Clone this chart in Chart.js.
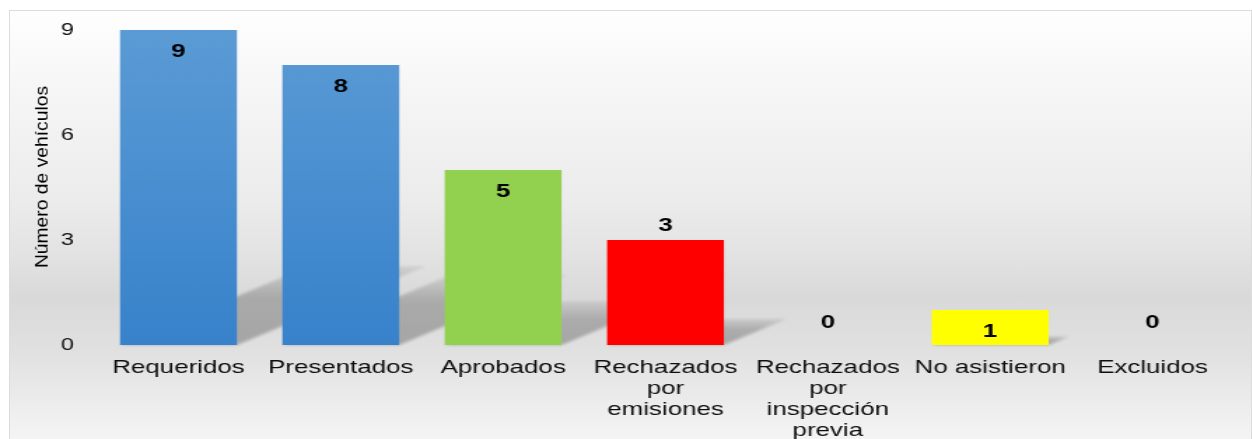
<!DOCTYPE html>
<html>
<head>
<meta charset="utf-8">
<script src="https://cdn.jsdelivr.net/npm/chart.js@4/dist/chart.umd.min.js"></script>
<style>
  html, body { margin: 0; padding: 0; background: #fff; width: 1252px; height: 439px; overflow: hidden; }
  #frame {
    position: absolute; left: 9px; top: 10px; width: 1241px; height: 440px;
    border: 1px solid #dcdcdc; border-bottom: none;
    background: linear-gradient(to bottom, #fefefe 0%, #f5f5f5 20%, #ebebeb 44%, #e2e2e2 56%, #d9d9d9 65%, #e1e1e1 78%, #eeeeee 91%, #f7f7f7 100%);
  }
  /* el gráfico original está estirado en horizontal: se dibuja estrecho y se escala */
  #wrap { position: absolute; left: 0; top: 0; width: 894px; height: 439px; transform: scaleX(1.4); transform-origin: 0 0; }
</style>
</head>
<body>
<div id="frame"></div>
<div id="wrap"><canvas id="c" width="894" height="439"></canvas></div>
<script>
// datos
const categorias = [
  'Requeridos', 'Presentados', 'Aprobados',
  ['Rechazados', 'por', 'emisiones'],
  ['Rechazados', 'por', 'inspección', 'previa'],
  'No asistieron', 'Excluidos',
];
const vehiculos = [9, 8, 5, 3, 0, 1, 0];
const ticksY = [0, 3, 6, 9];
const tituloY = 'Número de vehículos';

// estilo
const FONT = "'Liberation Sans', Arial, sans-serif";
const colores = ['azul', 'azul', '#92d050', '#ff0000', '#ffff00', '#ffff00', '#ff0000'];
const etiquetaDentro = [true, true, true, false, false, true, false];

function relleno(c) {
  const col = colores[c.dataIndex];
  if (col !== 'azul') return col;
  const { ctx, chartArea } = c.chart;
  if (!chartArea) return '#4a8fd1';
  const g = ctx.createLinearGradient(0, chartArea.top, 0, chartArea.bottom);
  g.addColorStop(0, '#5b9bd5');
  g.addColorStop(1, '#3782cb');
  return g;
}

// sombra en perspectiva detrás de cada barra
const sombras = {
  id: 'sombras',
  beforeDatasetsDraw(chart) {
    const ctx = chart.ctx;
    const meta = chart.getDatasetMeta(0);
    meta.data.forEach((el) => {
      const p = el.getProps(['x', 'y', 'base', 'width'], true);
      const h = p.base - p.y;
      if (h <= 0) return;
      const l = p.x - p.width / 2, r = p.x + p.width / 2;
      const dx = 0.6 * h / 1.4, dy = 0.25 * h;
      const g = ctx.createLinearGradient(0, p.base, 0, p.base - dy);
      g.addColorStop(0, 'rgba(0,0,0,0.26)');
      g.addColorStop(0.6, 'rgba(0,0,0,0.22)');
      g.addColorStop(1, 'rgba(0,0,0,0.07)');
      ctx.save();
      ctx.filter = 'blur(1.5px)';
      ctx.fillStyle = g;
      ctx.beginPath();
      ctx.moveTo(l, p.base);
      ctx.lineTo(l + dx, p.base - dy);
      ctx.lineTo(r + dx, p.base - dy);
      ctx.lineTo(r, p.base);
      ctx.closePath();
      ctx.fill();
      ctx.restore();
    });
  },
};

// valores sobre las barras
const valores = {
  id: 'valores',
  afterDatasetsDraw(chart) {
    const ctx = chart.ctx;
    const meta = chart.getDatasetMeta(0);
    ctx.save();
    ctx.font = 'bold 18.5px ' + FONT;
    ctx.fillStyle = '#000';
    ctx.textAlign = 'center';
    ctx.textBaseline = 'middle';
    meta.data.forEach((el, i) => {
      const v = vehiculos[i];
      let y;
      if (v === 0) y = el.base - 22;
      else if (etiquetaDentro[i]) y = el.y + 22;
      else y = el.y - 14;
      ctx.fillText(String(v), el.x, y);
    });
    ctx.restore();
  },
};

// título del eje Y (rotado)
const tituloEje = {
  id: 'tituloEje',
  afterDraw(chart) {
    const ctx = chart.ctx;
    ctx.save();
    ctx.translate(33.8, 177);
    ctx.rotate(-Math.PI / 2);
    ctx.scale(1.45, 1);
    ctx.font = '13.3px ' + FONT;
    ctx.fillStyle = '#000';
    ctx.textAlign = 'center';
    ctx.textBaseline = 'alphabetic';
    ctx.fillText(tituloY, 0, 0);
    ctx.restore();
  },
};

new Chart(document.getElementById('c'), {
  type: 'bar',
  data: {
    labels: categorias,
    datasets: [{ data: vehiculos, backgroundColor: relleno, borderWidth: 0, categoryPercentage: 1, barPercentage: 0.72 }],
  },
  options: {
    responsive: false, animation: false,
    layout: { padding: { top: 30, right: 12.8, left: 0, bottom: 0 } },
    plugins: { legend: { display: false }, tooltip: { enabled: false } },
    scales: {
      x: {
        grid: { display: false, drawTicks: false }, border: { display: false },
        ticks: { color: '#0d0d0d', font: { family: FONT, size: 18.5, lineHeight: 1.135 }, padding: 12.5, maxRotation: 0, autoSkip: false },
        afterFit: (s) => { s.height = 94; },
      },
      y: {
        min: 0, max: 9,
        grid: { display: false, drawTicks: false }, border: { display: false },
        afterBuildTicks: (s) => { s.ticks = ticksY.map((v) => ({ value: v })); },
        ticks: { color: '#0d0d0d', font: { family: FONT, size: 16.8 }, padding: 16.6 },
        afterFit: (s) => { s.width = 69.5; },
      },
    },
  },
  plugins: [sombras, valores, tituloEje],
});
</script>
</body>
</html>
